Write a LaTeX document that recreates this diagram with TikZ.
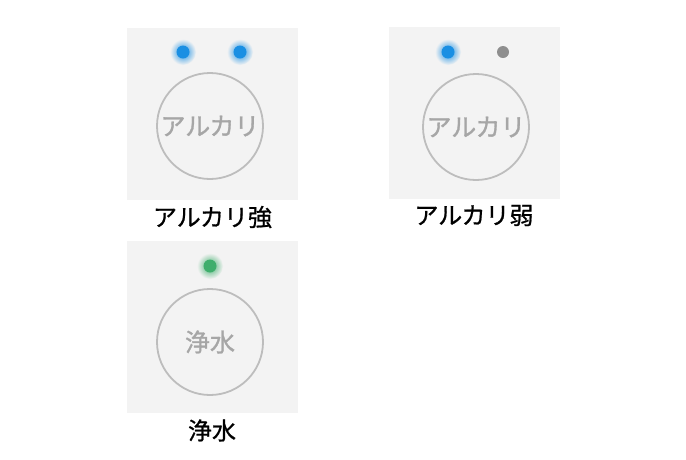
\documentclass[tikz,border=0pt]{standalone}
\usepackage{fontspec}
\setmainfont{Noto Sans CJK JP}
\newfontfamily\capfont{Noto Sans CJK JP}[FakeBold=0.8]
\newfontfamily\btnfont{Noto Sans CJK JP}[FakeBold=1.2]
\usetikzlibrary{positioning}

\definecolor{panelbg}{HTML}{F3F3F3}
\definecolor{ringgray}{HTML}{BDBDBD}
\definecolor{textgray}{HTML}{A6A6A6}
\definecolor{ledblue}{HTML}{1A8FE3}
\definecolor{ledgreen}{HTML}{3FAE6C}
\definecolor{ledoff}{HTML}{8E8E8E}

\tikzset{
  panel/.style={fill=panelbg,draw=none,minimum width=171pt,minimum height=172pt,inner sep=0pt},
  button/.style={circle,draw=ringgray,line width=1.8pt,minimum size=106pt,inner sep=0pt,
    text=textgray,font=\btnfont\fontsize{25}{25}\selectfont},
  caption/.style={font=\capfont\fontsize{24}{24}\selectfont,text=black,inner sep=0pt},
}

% glowing LED: #1 position, #2 colour
\newcommand{\ledon}[2]{
  \shade[inner color=#2,outer color=panelbg] #1 circle (13pt);
  \fill[#2] #1 circle (6.5pt);
}

\begin{document}
\begin{tikzpicture}[x=1pt,y=-1pt]
  \useasboundingbox[fill=white] (0,0) rectangle (686,459);

  % alkaline strong
  \node[panel] (pA) at (212.5,113.5) {};
  \node[button] (bA) at (210,126) {アルカリ};
  \node[caption,below=6pt of pA] (lA) {アルカリ強};
  \ledon{(183,52)}{ledblue}
  \ledon{(240,52)}{ledblue}

  % alkaline weak
  \node[panel] (pB) at (474,112.5) {};
  \node[button] (bB) at (476,127) {アルカリ};
  \node[caption,below=6pt of pB] (lB) {アルカリ弱};
  \ledon{(448,52)}{ledblue}
  \fill[ledoff] (503,52) circle (6pt);

  % purified water
  \node[panel] (pC) at (212,327) {};
  \node[button] (bC) at (210,342) {浄水};
  \node[caption,below=6pt of pC] (lC) {浄水};
  \ledon{(210,266)}{ledgreen}
\end{tikzpicture}
\end{document}
